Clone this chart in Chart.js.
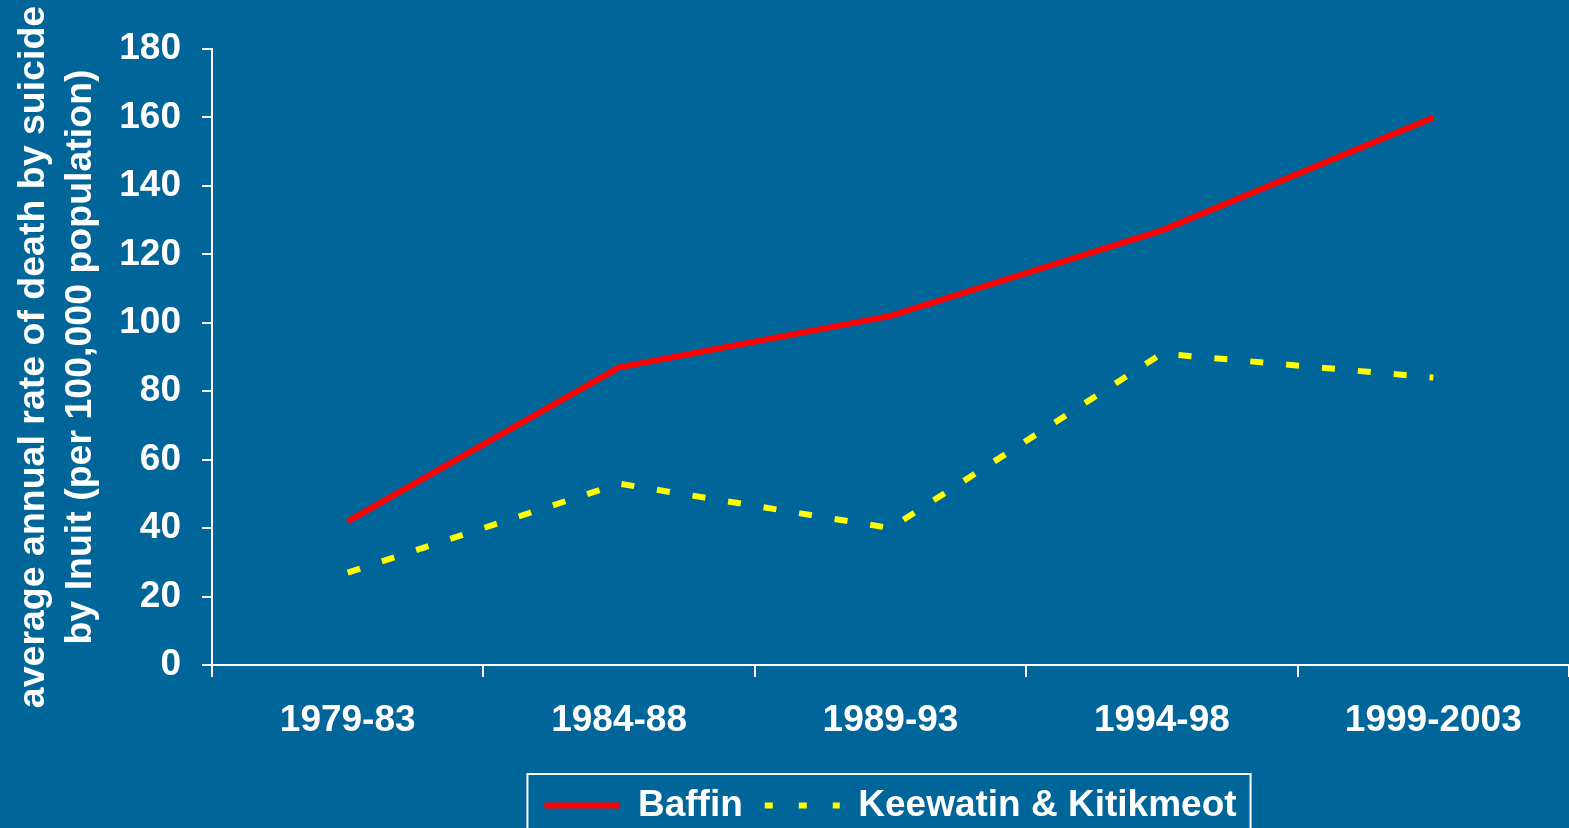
<!DOCTYPE html>
<html>
<head>
<meta charset="utf-8">
<title>Suicide rate by Inuit</title>
<script src="https://cdn.jsdelivr.net/npm/chart.js@4/dist/chart.umd.min.js"></script>
<style>
  html, body { margin: 0; padding: 0; background: #006699; }
  .chart-wrap { width: 1569px; height: 828px; position: relative; }
</style>
</head>
<body>
<div class="chart-wrap"><canvas id="suicideChart"></canvas></div>
<script>
const periods = ['1979-83', '1984-88', '1989-93', '1994-98', '1999-2003'];
const baffinRates = [42, 87, 102, 127, 160];
const keewatinRates = [27, 53, 40, 91, 84];
const yTicks = [0, 20, 40, 60, 80, 100, 120, 140, 160, 180];
const yTitle = ['average annual rate of death by suicide', 'by Inuit (per 100,000 population)'];

const WHITE = '#ffffff';

Chart.defaults.font.family = '"Liberation Sans", Arial, sans-serif';
Chart.defaults.font.weight = 'bold';
Chart.defaults.color = WHITE;

// white frame round the legend, open at the bottom edge like the original
const legendFrame = {
  id: 'legendFrame',
  afterDraw(chart) {
    const boxes = chart.legend && chart.legend.legendHitBoxes;
    if (!boxes || !boxes.length) return;
    const left = Math.min(...boxes.map((b) => b.left)) - 17;
    const right = Math.max(...boxes.map((b) => b.left + b.width)) + 14;
    const top = boxes[0].top - 13;
    const ctx = chart.ctx;
    ctx.save();
    ctx.strokeStyle = WHITE;
    ctx.lineWidth = 2;
    ctx.strokeRect(left, top, right - left, chart.height - top + 10);
    ctx.restore();
  }
};

new Chart(document.getElementById('suicideChart'), {
  type: 'line',
  data: {
    labels: periods,
    datasets: [
      {
        label: 'Baffin',
        data: baffinRates,
        borderColor: '#ff0000',
        backgroundColor: '#ff0000',
        borderWidth: 6,
        tension: 0,
        pointRadius: 0
      },
      {
        label: 'Keewatin & Kitikmeot',
        data: keewatinRates,
        borderColor: '#ffff00',
        backgroundColor: '#ffff00',
        borderWidth: 6,
        borderDash: [13, 23],
        borderCapStyle: 'butt',
        tension: 0,
        pointRadius: 0
      }
    ]
  },
  options: {
    responsive: true,
    maintainAspectRatio: false,
    animation: false,
    layout: { padding: { top: 49, right: 0, bottom: -6, left: 0 } },
    plugins: {
      tooltip: { enabled: false },
      legend: {
        position: 'bottom',
        fullSize: false,
        labels: {
          color: WHITE,
          font: { size: 37, weight: 'bold' },
          usePointStyle: true,
          pointStyleWidth: 75,
          padding: 22,
          generateLabels(chart) {
            return chart.data.datasets.map((ds, i) => ({
              text: ds.label,
              fontColor: WHITE,
              fillStyle: ds.borderColor,
              strokeStyle: ds.borderColor,
              lineWidth: 6,
              lineDash: ds.borderDash ? [8, 26] : [],
              lineCap: 'butt',
              pointStyle: 'line',
              hidden: false,
              datasetIndex: i
            }));
          }
        }
      }
    },
    scales: {
      x: {
        offset: true,
        grid: {
          offset: true,
          drawOnChartArea: false,
          drawTicks: true,
          tickLength: 12,
          color: WHITE,
          lineWidth: 2
        },
        border: { color: WHITE, width: 2 },
        ticks: { color: WHITE, font: { size: 37, weight: 'bold' }, padding: 22 },
        afterFit(scale) { scale.height = 100; }
      },
      y: {
        min: yTicks[0],
        max: yTicks[yTicks.length - 1],
        grid: {
          drawOnChartArea: false,
          drawTicks: true,
          tickLength: 10,
          color: WHITE,
          lineWidth: 2
        },
        border: { color: WHITE, width: 2 },
        ticks: {
          stepSize: yTicks[1] - yTicks[0],
          color: WHITE,
          font: { size: 37, weight: 'bold' },
          padding: 21
        },
        title: {
          display: true,
          text: yTitle,
          color: WHITE,
          font: { size: 37.5, weight: 'bold', lineHeight: 1.26 },
          padding: { top: 10, bottom: 0 }
        },
        afterFit(scale) { scale.width = 212; }
      }
    }
  },
  plugins: [legendFrame]
});
</script>
</body>
</html>
